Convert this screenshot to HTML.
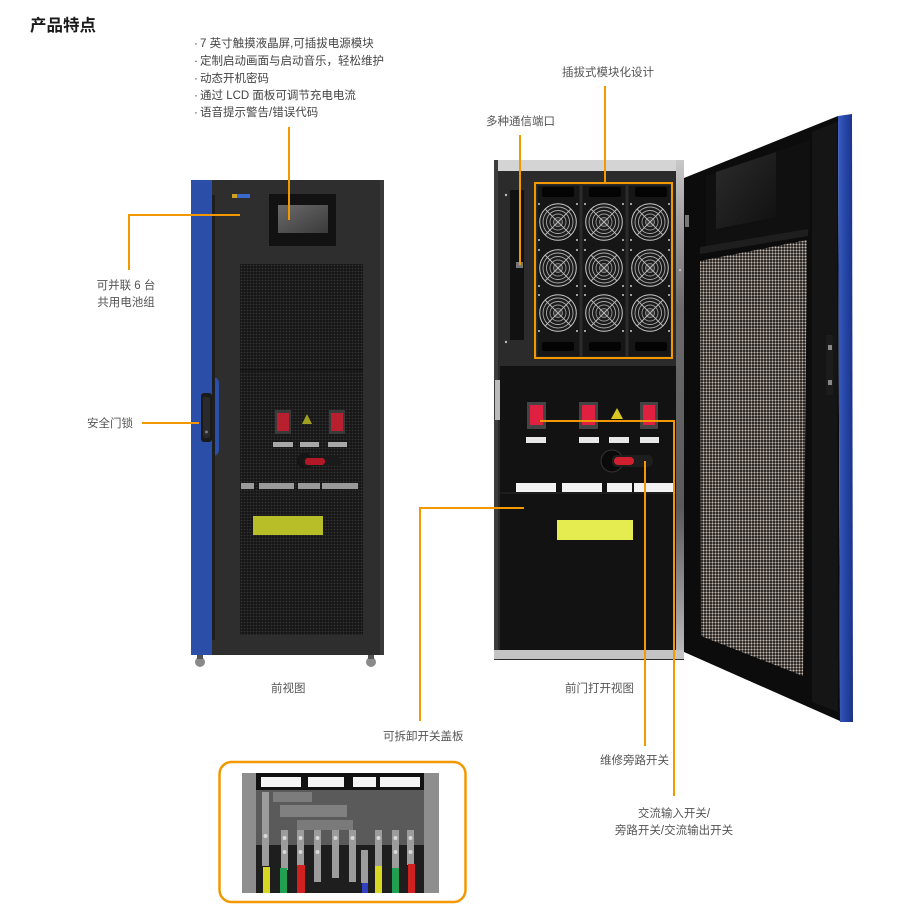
<!DOCTYPE html>
<html><head><meta charset="utf-8">
<style>
html,body{margin:0;padding:0;background:#fff;}
svg{display:block;}
text{font-family:"Liberation Sans","Noto Sans CJK SC",sans-serif;}
</style></head><body>
<svg width="921" height="905" viewBox="0 0 921 905" xmlns="http://www.w3.org/2000/svg">
<defs>
  <pattern id="meshL" width="3" height="3" patternUnits="userSpaceOnUse">
    <rect width="3" height="3" fill="#161616"/>
    <circle cx="1.5" cy="1.5" r="0.9" fill="#333"/>
  </pattern>
  <pattern id="meshR" width="3" height="3" patternUnits="userSpaceOnUse">
    <rect width="3" height="3" fill="#121110"/>
    <circle cx="1.5" cy="1.5" r="1.1" fill="#c6bab0"/>
  </pattern>
  <linearGradient id="blueR" x1="0" x2="1" y1="0" y2="0">
    <stop offset="0" stop-color="#3a5cc0"/>
    <stop offset="0.5" stop-color="#2646a6"/>
    <stop offset="1" stop-color="#1a3288"/>
  </linearGradient>
  <linearGradient id="silverV" x1="0" x2="0" y1="0" y2="1">
    <stop offset="0" stop-color="#c8c8c8"/>
    <stop offset="0.3" stop-color="#6a6a6a"/>
    <stop offset="0.7" stop-color="#5a5a5a"/>
    <stop offset="1" stop-color="#bdbdbd"/>
  </linearGradient>
  <linearGradient id="scr" x1="0" x2="1" y1="0" y2="1">
    <stop offset="0" stop-color="#6a6a6a"/>
    <stop offset="1" stop-color="#3a3a3a"/>
  </linearGradient>
  <linearGradient id="win" x1="0" x2="1" y1="0" y2="1">
    <stop offset="0" stop-color="#2c2c2c"/>
    <stop offset="1" stop-color="#101010"/>
  </linearGradient>
  <g id="fan">
    <circle r="19" fill="#1b1b1b"/>
    <circle r="18.3" fill="none" stroke="#c8c8c8" stroke-width="1"/>
    <circle r="15" fill="none" stroke="#aaa" stroke-width="0.9"/>
    <circle r="11.5" fill="none" stroke="#aaa" stroke-width="0.9"/>
    <circle r="8" fill="none" stroke="#999" stroke-width="0.9"/>
    <circle r="4.5" fill="#3a3a3a" stroke="#999" stroke-width="0.8"/>
    <path d="M-13,-13 L13,13 M13,-13 L-13,13" stroke="#bbb" stroke-width="0.9"/>
    <circle cx="-19" cy="-18" r="1" fill="#ccc"/>
    <circle cx="19" cy="-18" r="1" fill="#ccc"/>
    <circle cx="-19" cy="18" r="1" fill="#ccc"/>
    <circle cx="19" cy="18" r="1" fill="#ccc"/>
  </g>
</defs>

<!-- Title & features -->
<text x="30" y="31" font-size="16.5" font-weight="bold" fill="#1a1a1a">产品特点</text>
<g font-size="11.5" fill="#444">
  <text x="194" y="47">·</text><text x="200" y="47">7 英寸触摸液晶屏,可插拔电源模块</text>
  <text x="194" y="64.5">·</text><text x="200" y="64.5">定制启动画面与启动音乐，轻松维护</text>
  <text x="194" y="82">·</text><text x="200" y="82">动态开机密码</text>
  <text x="194" y="99">·</text><text x="200" y="99">通过 LCD 面板可调节充电电流</text>
  <text x="194" y="116">·</text><text x="200" y="116">语音提示警告/错误代码</text>
</g>

<!-- ================= LEFT CABINET ================= -->
<ellipse cx="200" cy="662" rx="5" ry="5" fill="#8a8a8a"/>
<rect x="197" y="655" width="6" height="4" fill="#555"/>
<ellipse cx="371" cy="662" rx="5" ry="5" fill="#8a8a8a"/>
<rect x="368" y="655" width="6" height="4" fill="#555"/>
<rect x="193" y="180" width="191" height="475" fill="#2e2e2e"/>
<rect x="380" y="180" width="4" height="475" fill="#3a3a3a"/>
<!-- blue door edge -->
<rect x="191" y="180" width="21" height="475" fill="#2b4fa8"/>
<rect x="200" y="377" width="19" height="79" rx="6" fill="#2b4fa8"/>
<rect x="212" y="195" width="3" height="445" fill="#1e1e1e"/>
<rect x="201" y="393" width="11" height="49" rx="3" fill="#1a1a1a"/>
<rect x="203" y="397" width="7" height="41" rx="2" fill="#2a2a2a"/>
<circle cx="206.5" cy="432" r="1.5" fill="#777"/>
<!-- logo -->
<rect x="232" y="194" width="18" height="4" fill="#3a6ad0"/>
<rect x="232" y="194" width="5" height="4" fill="#d0a020"/>
<!-- screen -->
<rect x="269" y="194" width="67" height="52" fill="#121212"/>
<rect x="278" y="205" width="50" height="28" fill="url(#scr)"/>
<!-- mesh -->
<rect x="240" y="264" width="123" height="371" fill="url(#meshL)"/>
<line x1="240" y1="370" x2="363" y2="370" stroke="#0e0e0e" stroke-width="1"/>
<!-- switches left -->
<rect x="275" y="410" width="16" height="24" fill="#3a3a3a"/>
<rect x="277" y="413" width="12" height="18" fill="#b82030"/>
<rect x="329" y="410" width="16" height="24" fill="#3a3a3a"/>
<rect x="331" y="413" width="12" height="18" fill="#b82030"/>
<polygon points="307,414 312,424 302,424" fill="#a0a020"/>
<rect x="273" y="442" width="20" height="5" fill="#a8a8a8"/>
<rect x="300" y="442" width="19" height="5" fill="#a8a8a8"/>
<rect x="328" y="442" width="19" height="5" fill="#a8a8a8"/>
<circle cx="305" cy="461" r="8" fill="#151515"/>
<rect x="303" y="457" width="38" height="9" rx="4" fill="#1a1a1a"/>
<rect x="305" y="458" width="20" height="7" rx="3" fill="#b01828"/>
<rect x="241" y="483" width="13" height="6" fill="#9a9a9a"/>
<rect x="259" y="483" width="35" height="6" fill="#9a9a9a"/>
<rect x="298" y="483" width="22" height="6" fill="#9a9a9a"/>
<rect x="322" y="483" width="36" height="6" fill="#9a9a9a"/>
<rect x="253" y="516" width="70" height="19" fill="#b8be28"/>

<!-- ================= RIGHT CABINET ================= -->
<rect x="494" y="160" width="190" height="500" fill="#2a2a2a"/>
<rect x="494" y="160" width="190" height="11" fill="#d4d4d4"/>
<rect x="494" y="160" width="4" height="500" fill="#3c3c3c"/>
<rect x="495" y="380" width="5" height="40" fill="#bbb"/>
<rect x="676" y="160" width="8" height="498" fill="url(#silverV)"/>
<!-- upper panel -->
<rect x="498" y="171" width="178" height="195" fill="#2b2b2b"/>
<rect x="510" y="190" width="14" height="150" fill="#111"/>
<rect x="516" y="262" width="7" height="6" fill="#777"/>
<circle cx="506" cy="195" r="1.2" fill="#bbb"/>
<circle cx="506" cy="342" r="1.2" fill="#bbb"/>
<circle cx="680" cy="270" r="1.2" fill="#bbb"/>
<!-- modules -->
<rect x="537" y="185" width="43" height="172" fill="#161616" stroke="#2c2c2c" stroke-width="1"/>
<rect x="582" y="185" width="44" height="172" fill="#161616" stroke="#2c2c2c" stroke-width="1"/>
<rect x="628" y="185" width="43" height="172" fill="#161616" stroke="#2c2c2c" stroke-width="1"/>
<rect x="542" y="187" width="32" height="10" rx="2" fill="#040404"/>
<rect x="589" y="187" width="32" height="10" rx="2" fill="#040404"/>
<rect x="635" y="187" width="32" height="10" rx="2" fill="#040404"/>
<rect x="542" y="342" width="32" height="9" rx="2" fill="#040404"/>
<rect x="589" y="342" width="32" height="9" rx="2" fill="#040404"/>
<rect x="635" y="342" width="32" height="9" rx="2" fill="#040404"/>
<use href="#fan" x="558" y="222"/><use href="#fan" x="604" y="222"/><use href="#fan" x="650" y="222"/>
<use href="#fan" x="558" y="268"/><use href="#fan" x="604" y="268"/><use href="#fan" x="650" y="268"/>
<use href="#fan" x="558" y="313"/><use href="#fan" x="604" y="313"/><use href="#fan" x="650" y="313"/>
<!-- lower panel -->
<rect x="500" y="366" width="176" height="285" fill="#121212"/>
<line x1="500" y1="493" x2="676" y2="493" stroke="#2a2a2a" stroke-width="1"/>
<rect x="494" y="650" width="190" height="9" fill="#c4c4c4"/>
<rect x="527" y="402" width="19" height="27" fill="#444"/>
<rect x="530" y="405" width="13" height="20" fill="#e02040"/>
<rect x="579" y="402" width="19" height="27" fill="#444"/>
<rect x="582" y="405" width="13" height="20" fill="#e02040"/>
<rect x="640" y="402" width="18" height="27" fill="#444"/>
<rect x="643" y="405" width="12" height="20" fill="#e02040"/>
<polygon points="617,408 623,419 611,419" fill="#d8c820"/>
<rect x="526" y="437" width="20" height="6" fill="#e8e8e8"/>
<rect x="579" y="437" width="20" height="6" fill="#e8e8e8"/>
<rect x="609" y="437" width="20" height="6" fill="#e8e8e8"/>
<rect x="640" y="437" width="19" height="6" fill="#e8e8e8"/>
<circle cx="612" cy="461" r="11" fill="#0a0a0a" stroke="#333" stroke-width="1"/>
<rect x="612" y="455" width="41" height="12" rx="5" fill="#1e1e1e"/>
<rect x="614" y="457" width="20" height="8" rx="4" fill="#d02030"/>
<rect x="516" y="483" width="40" height="9" fill="#f2f2f2"/>
<rect x="562" y="483" width="40" height="9" fill="#f2f2f2"/>
<rect x="607" y="483" width="25" height="9" fill="#f2f2f2"/>
<rect x="634" y="483" width="39" height="9" fill="#f2f2f2"/>
<rect x="557" y="520" width="76" height="20" fill="#e4ec50"/>

<!-- open door -->
<polygon points="684,178 838,116 840,721 684,652" fill="#0c0c0c"/>
<polygon points="812,132 837,122 838,712 812,702" fill="#151515"/>
<polygon points="706,176 810,140 810,232 706,252" fill="#101010"/>
<polygon points="716,172 776,152 776,217 716,229" fill="url(#win)"/>
<polygon points="700,247 808,229 808,236 700,254" fill="#1e1e1e"/>
<polygon points="700,261 807,240 803,676 701,636" fill="url(#meshR)"/>
<rect x="826" y="335" width="7" height="60" fill="#1c1c1c"/>
<rect x="828" y="345" width="4" height="5" fill="#888"/>
<rect x="828" y="380" width="4" height="5" fill="#888"/>
<rect x="685" y="215" width="4" height="12" fill="#777"/>
<polygon points="838,116 852,114 853,722 840,722" fill="url(#blueR)"/>

<!-- ================= INSET ================= -->
<rect x="219.5" y="762" width="246" height="140" rx="12" fill="#fff" stroke="#f39800" stroke-width="2.5"/>
<rect x="242" y="773" width="197" height="120" fill="#1e1e1e"/>
<rect x="242" y="773" width="14" height="120" fill="#8e8e8e"/>
<rect x="424" y="773" width="15" height="120" fill="#8e8e8e"/>
<rect x="256" y="773" width="168" height="17" fill="#111"/>
<rect x="261" y="777" width="40" height="10" fill="#f4f4f4"/>
<rect x="308" y="777" width="36" height="10" fill="#f4f4f4"/>
<rect x="353" y="777" width="23" height="10" fill="#f4f4f4"/>
<rect x="380" y="777" width="40" height="10" fill="#f4f4f4"/>
<rect x="256" y="790" width="168" height="55" fill="#5a5a5a"/>
<rect x="273" y="792" width="39" height="10" fill="#7c7c7c"/>
<rect x="280" y="805" width="67" height="12" fill="#808080"/>
<rect x="297" y="820" width="56" height="10" fill="#7a7a7a"/>
<g fill="#9c9c9c">
  <rect x="262" y="792" width="7" height="74"/>
  <rect x="281" y="830" width="7" height="40"/>
  <rect x="297" y="830" width="7" height="36"/>
  <rect x="314" y="830" width="7" height="52"/>
  <rect x="332" y="830" width="7" height="48"/>
  <rect x="349" y="830" width="7" height="52"/>
  <rect x="361" y="850" width="7" height="33"/>
  <rect x="375" y="830" width="7" height="38"/>
  <rect x="392" y="830" width="7" height="40"/>
  <rect x="407" y="830" width="7" height="35"/>
</g>
<g fill="#d8d8d8">
  <circle cx="265.5" cy="836" r="2"/><circle cx="284.5" cy="838" r="2"/><circle cx="300.5" cy="838" r="2"/>
  <circle cx="317.5" cy="838" r="2"/><circle cx="335.5" cy="838" r="2"/><circle cx="352.5" cy="838" r="2"/>
  <circle cx="378.5" cy="838" r="2"/><circle cx="395.5" cy="838" r="2"/><circle cx="410.5" cy="838" r="2"/>
  <circle cx="284.5" cy="852" r="2"/><circle cx="300.5" cy="852" r="2"/><circle cx="317.5" cy="852" r="2"/>
  <circle cx="395.5" cy="852" r="2"/><circle cx="410.5" cy="852" r="2"/>
</g>
<rect x="263" y="867" width="7" height="26" fill="#d8d820"/>
<rect x="280" y="868" width="7" height="25" fill="#20a050"/>
<rect x="297" y="865" width="8" height="28" fill="#d02020"/>
<rect x="375" y="866" width="7" height="27" fill="#d8d820"/>
<rect x="392" y="868" width="7" height="25" fill="#20a050"/>
<rect x="408" y="864" width="7" height="29" fill="#d02020"/>
<rect x="362" y="883" width="6" height="10" fill="#3040c0"/>

<!-- ================= CONNECTORS ================= -->
<g stroke="#f39800" stroke-width="2" fill="none">
  <path d="M289,127 V220"/>
  <path d="M605,86 V183"/>
  <path d="M520,135 V265"/>
  <path d="M129,270 V215 H240"/>
  <path d="M142,423 H199"/>
  <path d="M420,721 V508 H524"/>
  <path d="M645,746 V461"/>
  <path d="M540,421 H674 V796"/>
  <rect x="535" y="183" width="137" height="175"/>
</g>

<!-- ================= LABELS ================= -->
<g font-size="11.5" fill="#555">
  <text x="562" y="76">插拔式模块化设计</text>
  <text x="486" y="125">多种通信端口</text>
  <text x="126" y="289" text-anchor="middle">可并联 6 台</text>
  <text x="126" y="306" text-anchor="middle">共用电池组</text>
  <text x="87" y="427">安全门锁</text>
  <text x="271" y="692">前视图</text>
  <text x="565" y="692">前门打开视图</text>
  <text x="383" y="740">可拆卸开关盖板</text>
  <text x="600" y="764">维修旁路开关</text>
  <text x="674" y="817" text-anchor="middle">交流输入开关/</text>
  <text x="674" y="834" text-anchor="middle">旁路开关/交流输出开关</text>
</g>
</svg>
</body></html>
